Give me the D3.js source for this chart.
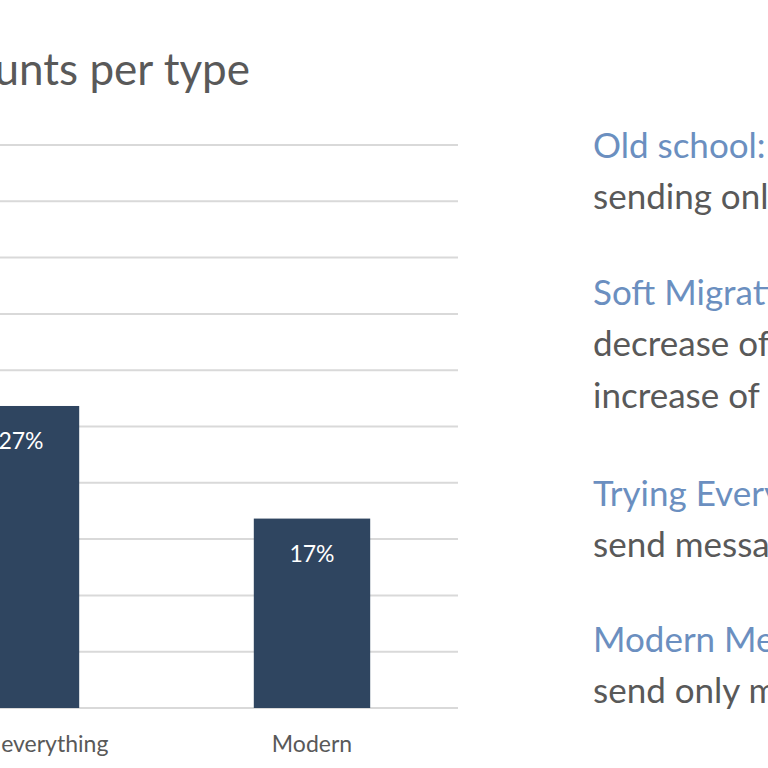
<!DOCTYPE html>
<html>
<head>
<meta charset="utf-8">
<script src="https://cdn.jsdelivr.net/npm/d3@7"></script>
<style>
  body { margin: 0; background: #fff; overflow: hidden; }
  svg { display: block; font-family: Lato, "Open Sans", sans-serif; }
</style>
</head>
<body>
<svg width="768" height="768"></svg>
<script>
// data (off-screen bars are guesses)
var categories = ["Old school", "Soft Migration", "Trying everything", "Modern"];
var shares = [30, 26, 27, 17];
var ticks = [0, 5, 10, 15, 20, 25, 30, 35, 40, 45, 50];

var notesHead = ["Old school:", "Soft Migration:", "Trying Everything:", "Modern Messaging:"];
var notesBody = [["sending only emails"],
                 ["decrease of emails,", "increase of messaging"],
                 ["send messages on all channels"],
                 ["send only messages"]];

var svg = d3.select("svg");

// title, mostly cut off at the left edge
svg.append("text")
  .attr("x", 250).attr("y", 85)
  .attr("text-anchor", "end")
  .attr("fill", "#595959")
  .style("font-size", "44px")
  .text("Number of accounts per type");

// band step of 291 px, only the last two bands are on screen
var x = d3.scaleBand().domain(categories).range([-706.5, 457.5]).paddingInner(0.6).paddingOuter(0.3);

var y = d3.scaleLinear().domain([0, 50]).range([708, 145]);

// gridlines
svg.append("g").selectAll("line")
  .data(ticks)
  .join("line")
  .attr("x1", -10).attr("x2", 458)
  .attr("y1", function (d) { return y(d); })
  .attr("y2", function (d) { return y(d); })
  .attr("stroke", "#d9d9d9")
  .attr("stroke-width", 2);

// bars
svg.append("g").selectAll("rect")
  .data(categories)
  .join("rect")
  .attr("x", function (d) { return x(d); })
  .attr("width", x.bandwidth())
  .attr("y", function (d, i) { return y(shares[i]) + 2; })
  .attr("height", function (d, i) { return y(0) - y(shares[i]) - 2; })
  .attr("fill", "#2f4560");

// value labels
svg.append("g").selectAll("text")
  .data(categories)
  .join("text")
  .attr("x", function (d) { return x(d) + x.bandwidth() / 2; })
  .attr("y", function (d, i) { return y(shares[i]) + 45; })
  .attr("text-anchor", "middle")
  .attr("fill", "#fff")
  .style("font-size", "23px")
  .text(function (d, i) { return shares[i] + "%"; });

// category labels
svg.append("g").selectAll("text")
  .data(categories)
  .join("text")
  .attr("x", function (d) { return x(d) + x.bandwidth() / 2; })
  .attr("y", 752)
  .attr("text-anchor", "middle")
  .attr("fill", "#595959")
  .style("font-size", "23px")
  .text(function (d) { return d; });

// notes on the right
var headY = [158, 305, 506, 652];
var notes = svg.append("g").attr("transform", "translate(593,0)");
notesHead.forEach(function (h, i) {
  notes.append("text")
    .attr("y", headY[i])
    .attr("fill", "#6b8fc0")
    .style("font-size", "35px")
    .text(h);
  notesBody[i].forEach(function (line, j) {
    notes.append("text")
      .attr("y", headY[i] + 51 + j * 52)
      .attr("fill", "#595959")
      .style("font-size", "35px")
      .text(line);
  });
});
</script>
</body>
</html>
